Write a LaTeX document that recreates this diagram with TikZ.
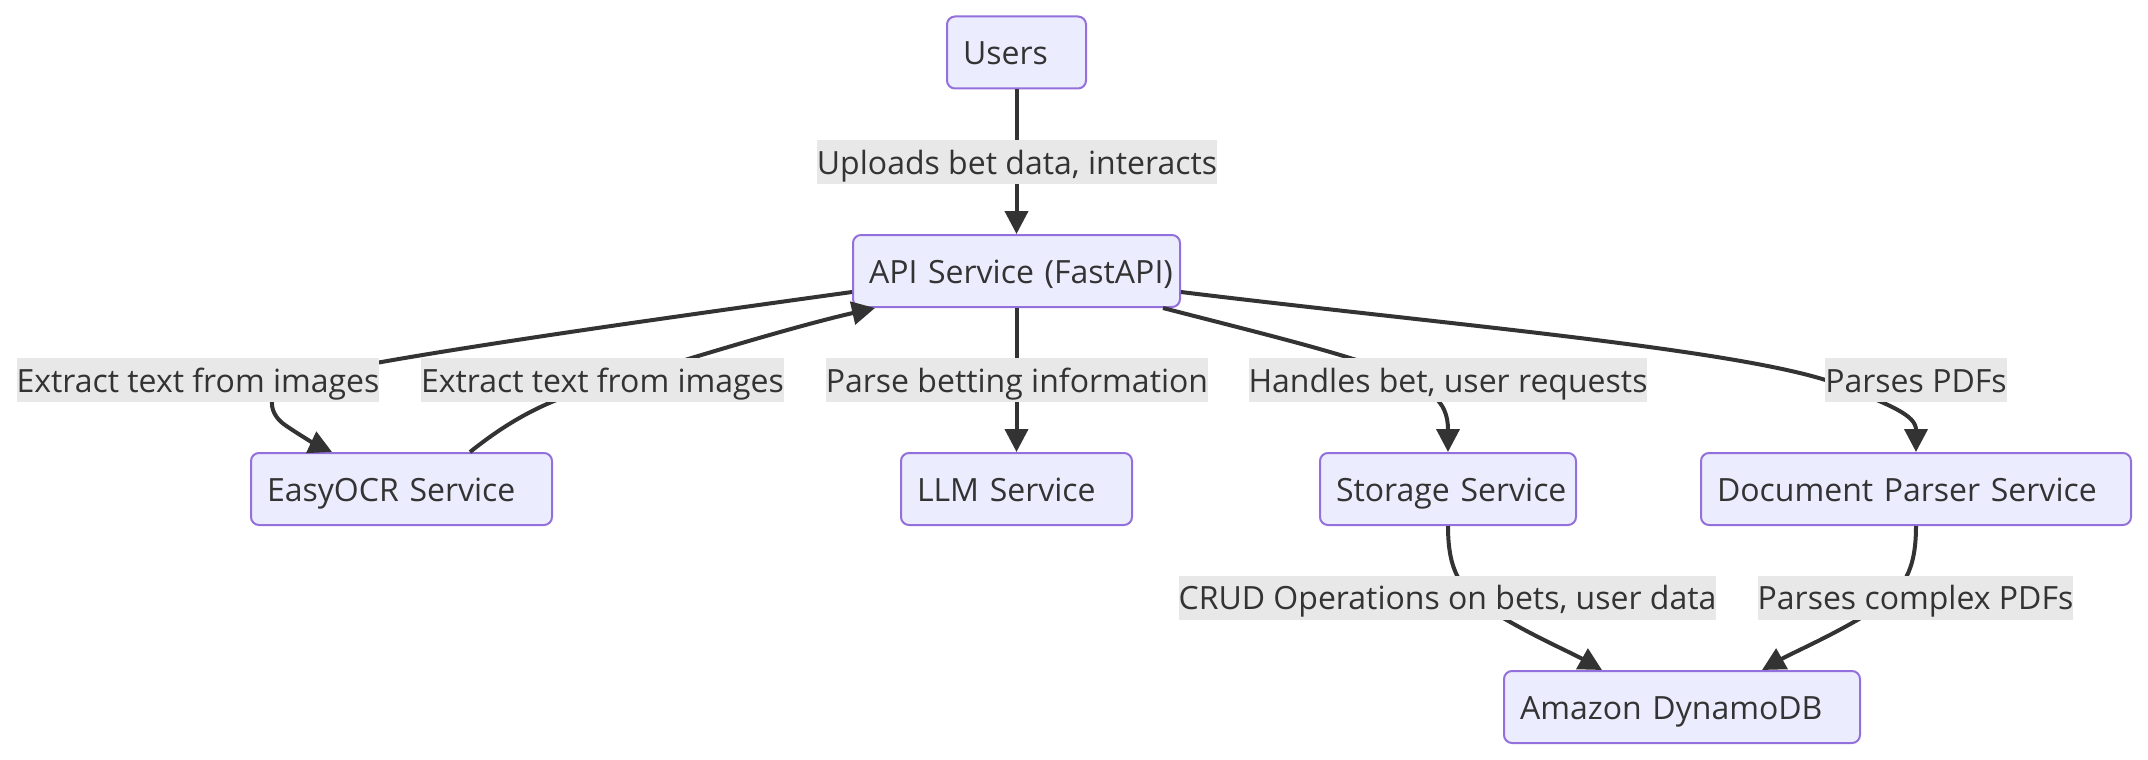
\documentclass[tikz,border=0pt]{standalone}
\usepackage{fontspec}
\setmainfont{Open Sans}
\usetikzlibrary{arrows.meta,calc}
\definecolor{nodefill}{HTML}{ECECFF}
\definecolor{nodeborder}{HTML}{9370DB}
\definecolor{edgec}{HTML}{333333}
\definecolor{labelfill}{HTML}{E8E8E8}
\definecolor{textc}{HTML}{333333}
\newcommand{\diafont}{\fontsize{32}{38}\selectfont}
\hbadness=10000 \hfuzz=100pt
\tikzset{
  box/.style={draw=nodeborder, fill=nodefill, line width=2pt, rounded corners=8pt,
    minimum height=72pt, inner xsep=16pt, inner ysep=0pt, align=left,
    text height=28pt, text depth=4pt, font=\diafont, text=textc},
  lbl/.style={fill=labelfill, inner xsep=0pt, inner ysep=0pt, minimum height=44pt,
    text height=28pt, text depth=4pt, font=\diafont, text=textc},
  edge/.style={draw=edgec, line width=4pt, -{Triangle[length=23pt,width=23pt]}}
}
\begin{document}
\begin{tikzpicture}[x=1pt,y=-1pt]
\useasboundingbox (0,0) rectangle (2148,760);
% nodes
\node[box, minimum width=139pt, text width=107pt] (users) at (1016.5,52.5) {\mbox{Users}};
\node[box, minimum width=327pt, text width=295pt] (api) at (1016.5,271) {\mbox{API Service (FastAPI)}};
\node[box, minimum width=301pt, text width=269pt] (easyocr) at (401.5,489) {\mbox{EasyOCR Service}};
\node[box, minimum width=231pt, text width=199pt] (llm) at (1016.5,489) {\mbox{LLM Service}};
\node[box, minimum width=256pt, text width=224pt] (storage) at (1448,489) {\mbox{Storage Service}};
\node[box, minimum width=430pt, text width=398pt] (docparser) at (1916,489) {\mbox{Document Parser Service}};
\node[box, minimum width=356pt, text width=324pt] (dynamo) at (1682,707) {\mbox{Amazon DynamoDB}};
% edges
\draw[edge] (users.south) -- (api.north);
\draw[edge] ($(api.west)+(0,21)$) .. controls (650,320) and (400,355) .. (300,378)
  .. controls (265,386) and (266,412) .. (285,425)
  .. controls (298,434) and (315,444) .. ($(easyocr.north)+(-69.5,0)$);
\draw[edge] ($(easyocr.north)+(68.5,0)$) .. controls (520,412) and (560,395) .. (620,380)
  .. controls (700,355) and (800,325) .. ($(api.south west)+(23,0)$);
\draw[edge] (api.south) -- (llm.north);
\draw[edge] ($(api.south east)+(-18,0)$) .. controls (1260,333) and (1330,350) .. (1380,368)
  .. controls (1430,388) and (1448,400) .. (storage.north);
\draw[edge] ($(api.east)+(0,21)$) .. controls (1450,325) and (1750,350) .. (1840,385)
  .. controls (1890,405) and (1916,415) .. (docparser.north);
\draw[edge] (storage.south) .. controls (1448,570) and (1460,590) .. (1490,610)
  .. controls (1530,635) and (1570,652) .. ($(dynamo.north)+(-80,0)$);
\draw[edge] (docparser.south) .. controls (1916,570) and (1904,590) .. (1874,610)
  .. controls (1834,635) and (1794,652) .. ($(dynamo.north)+(80,0)$);
% labels
\node[lbl] (l1) at (1017,162) {Uploads bet data, interacts};
\node[lbl] (l2) at (198,380) {Extract text from images};
\node[lbl] (l3) at (602.5,380) {Extract text from images};
\node[lbl] (l4) at (1017,380) {Parse betting information};
\node[lbl] (l5) at (1448,380) {Handles bet, user requests};
\node[lbl] (l6) at (1916,380) {Parses PDFs};
\node[lbl] (l7) at (1447.5,597.5) {CRUD Operations on bets, user data};
\node[lbl] (l8) at (1915.5,597.5) {Parses complex PDFs};
\end{tikzpicture}
\end{document}
